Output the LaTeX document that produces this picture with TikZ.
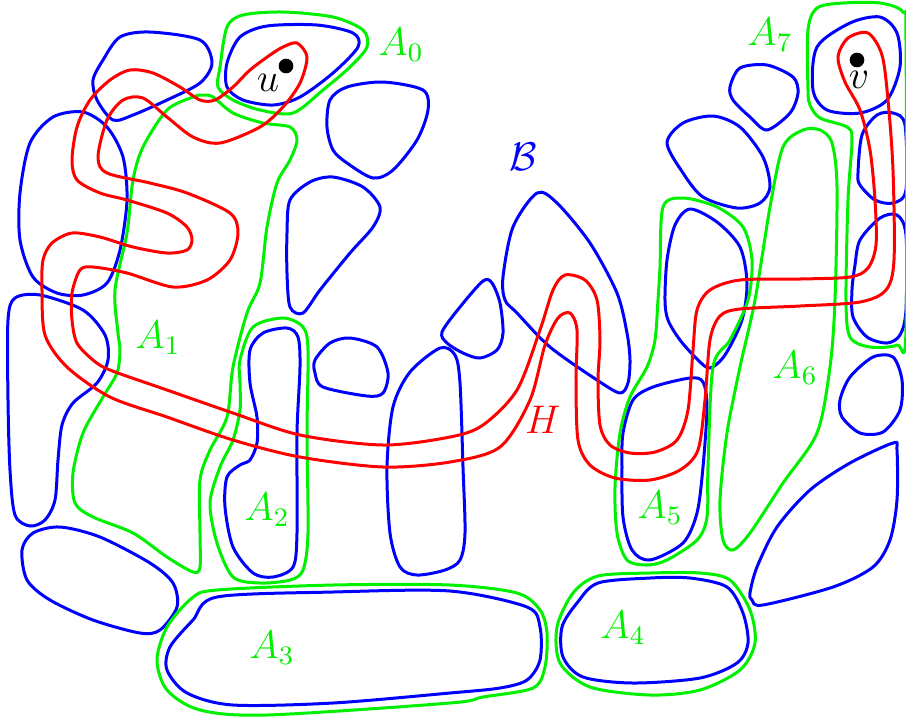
\documentclass[tikz,border=0pt]{standalone}
\usepackage{amsmath}
\usepackage{amssymb}
\usepackage{tikz}
\usetikzlibrary{positioning}

\definecolor{setblue}{RGB}{0,0,255}
\definecolor{setgreen}{RGB}{0,240,0}
\definecolor{pathred}{RGB}{255,0,0}

\begin{document}
\begin{tikzpicture}[x=0.3pt, y=-0.3pt, line join=round,
    blob/.style={draw=setblue, line width=0.9pt},
    part/.style={draw=setgreen, line width=0.9pt},
    walk/.style={draw=pathred, line width=0.9pt},
    every node/.style={font=\large}]
    \useasboundingbox (0,0) rectangle (906,720);

    % blue pieces of B
    \path[blob] plot[smooth cycle] coordinates {(103,60) (120,37) (150,32) (200,40) (212,63) (200,83) (167,100) (133,115) (113,120) (97,100) (93,80)};
    \path[blob] plot[smooth cycle] coordinates {(227,63) (240,37) (267,26) (317,25) (353,33) (358,47) (333,73) (300,97) (273,105) (243,100) (227,87)};
    \path[blob] plot[smooth cycle] coordinates {(330,100) (347,87) (383,82) (423,90) (428,110) (417,140) (393,170) (373,178) (347,163) (333,150) (327,127)};
    \path[blob] plot[smooth cycle] coordinates {(290,200) (310,182) (333,177) (363,187) (380,207) (373,227) (350,253) (320,290) (303,313) (290,307) (287,273) (287,233)};
    \path[blob] plot[smooth cycle] coordinates {(20,193) (30,143) (53,117) (83,112) (107,127) (123,157) (127,200) (120,250) (107,283) (83,295) (57,293) (33,277) (20,240)};
    \path[blob] plot[smooth cycle] coordinates {(8,320) (15,298) (40,295) (83,310) (105,335) (108,360) (97,383) (73,403) (62,425) (58,460) (55,500) (45,520) (30,526) (15,515) (10,470) (8,400)};
    \path[blob] plot[smooth cycle] coordinates {(22,550) (33,533) (60,527) (100,537) (150,563) (173,583) (177,607) (160,630) (140,633) (93,620) (50,600) (27,580)};
    \path[blob] plot[smooth cycle] coordinates {(250,350) (263,333) (287,328) (298,337) (300,367) (297,433) (297,533) (293,567) (273,577) (253,573) (233,547) (225,507) (227,477) (240,465) (250,460) (257,443) (257,417) (250,383)};
    \path[blob] plot[smooth cycle] coordinates {(315,360) (330,343) (350,338) (377,347) (388,373) (383,393) (367,396) (323,387) (315,373)};
    \path[blob] plot[smooth cycle] coordinates {(393,407) (410,372) (440,348) (455,355) (460,383) (463,467) (465,533) (460,560) (445,570) (417,575) (400,567) (390,533) (387,467)};
    \path[blob] plot[smooth cycle] coordinates {(442,332) (460,307) (483,281) (492,283) (500,303) (503,333) (497,350) (480,358) (463,353) (447,343)};
    \path[blob] plot[smooth cycle] coordinates {(503,277) (513,227) (537,193) (557,203) (590,243) (617,293) (627,333) (630,360) (628,383) (620,393) (597,380) (550,347) (517,313) (505,300)};
    \path[blob] plot[smooth cycle] coordinates {(217,597) (333,592) (450,591) (527,607) (540,627) (540,660) (527,680) (500,688) (450,693) (333,703) (233,705) (187,693) (167,670) (170,647) (193,620)};
    \path[blob] plot[smooth cycle] coordinates {(598,583) (650,578) (690,578) (727,587) (743,613) (748,643) (737,663) (700,678) (633,683) (583,677) (563,657) (562,627) (577,603)};
    \path[blob] plot[smooth cycle] coordinates {(623,433) (633,400) (653,387) (690,378) (703,382) (707,407) (703,467) (697,513) (683,543) (650,560) (632,550) (623,517) (622,467)};
    \path[blob] plot[smooth cycle] coordinates {(665,300) (667,260) (675,225) (690,209) (717,222) (740,247) (747,283) (742,320) (725,355) (710,368) (698,360) (680,340) (668,320)};
    \path[blob] plot[smooth cycle] coordinates {(667,143) (683,123) (713,116) (740,127) (763,157) (770,187) (760,203) (737,208) (703,197) (683,173)};
    \path[blob] plot[smooth cycle] coordinates {(730,87) (740,68) (767,65) (793,77) (798,93) (790,113) (767,130) (750,117) (733,100)};
    \path[blob] plot[smooth cycle] coordinates {(813,90) (817,47) (850,23) (880,17) (897,33) (900,67) (887,100) (860,113) (827,110)};
    \path[blob] plot[smooth cycle] coordinates {(858,173) (862,135) (877,115) (893,113) (905,125) (906,190) (893,203) (875,200) (860,185)};
    \path[blob] plot[smooth cycle] coordinates {(855,265) (860,240) (880,218) (897,215) (906,235) (906,310) (900,335) (887,343) (867,337) (853,317) (852,290)};
    \path[blob] plot[smooth cycle] coordinates {(840,400) (850,377) (873,357) (893,357) (902,380) (900,410) (883,432) (860,433) (842,417)};
    \path[blob] plot[smooth cycle] coordinates {(750,593) (757,567) (777,527) (810,490) (850,463) (893,443) (897,450) (897,500) (890,540) (873,567) (833,587) (763,605) (752,600)};

    % green parts A_0 ... A_7
    \path[part] plot[smooth cycle] coordinates {(220,67) (227,27) (243,15) (283,12) (333,17) (363,30) (367,47) (350,67) (323,90) (293,113) (260,110) (233,100) (218,87)};
    \path[part] plot[smooth cycle] coordinates {(203,95) (193,97) (167,110) (143,147) (133,180) (127,233) (115,290) (118,333) (120,350) (117,373) (103,397) (83,433) (73,473) (75,503) (93,517) (133,533) (167,557) (193,572) (200,567) (200,533) (200,480) (210,450) (227,417) (233,367) (247,313) (260,283) (267,227) (277,183) (290,160) (297,140) (290,127) (263,123) (233,113) (213,97)};
    \path[part] plot[smooth cycle] coordinates {(240,360) (253,327) (283,318) (303,327) (308,350) (307,433) (308,533) (303,570) (290,580) (260,583) (233,577) (217,543) (210,503) (220,467) (233,440) (240,410) (240,383)};
    \path[part] plot[smooth cycle] coordinates {(217,590) (333,585) (450,585) (517,593) (540,610) (547,633) (545,667) (533,688) (483,697) (450,703) (267,715) (200,710) (167,690) (157,660) (167,627) (192,598)};
    \path[part] plot[smooth cycle] coordinates {(598,576) (650,573) (700,573) (730,580) (750,610) (755,643) (740,670) (700,690) (650,695) (590,687) (560,663) (557,627) (573,593)};
    \path[part] plot[smooth cycle] coordinates {(663,207) (683,198) (717,207) (743,227) (752,260) (748,300) (730,340) (713,367) (708,467) (707,517) (697,540) (667,560) (647,565) (627,560) (617,533) (615,487) (620,433) (630,397) (647,367) (655,340) (658,300) (660,267)};
    \path[part] plot[smooth cycle] coordinates {(783,147) (803,130) (820,130) (832,143) (837,187) (835,300) (830,367) (817,433) (783,483) (750,533) (733,550) (723,540) (720,500) (727,433) (740,367) (755,300) (770,207)};
    \path[part] plot[smooth cycle] coordinates {(808,90) (808,30) (817,8) (843,3) (880,3) (903,12) (906,40) (906,330) (897,345) (870,347) (850,337) (846,300) (848,200) (852,140) (847,127) (820,118) (810,105)};

    % red cycle H through u and v
    \path[walk] plot[smooth cycle] coordinates {(307,57) (300,83) (283,107) (260,127) (220,143) (193,137) (167,117) (143,98) (123,100) (107,120) (98,157) (107,173) (150,183) (187,193) (230,213) (238,233) (230,260) (207,280) (173,287) (127,273) (93,267) (80,270) (72,293) (72,320) (77,343) (93,360) (110,370) (167,390) (233,413) (300,435) (383,445) (450,437) (483,425) (517,390) (540,330) (553,290) (565,275) (585,280) (597,300) (600,340) (598,380) (600,425) (610,445) (630,453) (655,452) (677,440) (688,410) (693,350) (697,310) (710,290) (740,280) (800,279) (850,277) (868,268) (876,245) (875,200) (870,150) (860,110) (845,82) (838,57) (848,38) (868,33) (882,55) (888,100) (893,170) (894,260) (886,290) (860,302) (800,306) (740,309) (720,316) (710,340) (705,400) (698,450) (680,470) (650,480) (615,478) (590,465) (578,440) (576,380) (577,330) (570,313) (558,318) (545,345) (530,400) (500,447) (450,462) (383,467) (300,457) (233,440) (167,417) (110,397) (67,367) (45,335) (42,290) (43,260) (52,243) (72,233) (100,237) (133,247) (167,253) (187,250) (192,240) (187,227) (167,213) (127,200) (100,193) (77,180) (72,160) (77,127) (90,100) (110,80) (130,70) (153,73) (180,87) (200,100) (215,100) (233,87) (250,70) (270,55) (283,47) (297,43)};

    % end vertices
    \fill (286,66) circle [radius=2.2pt];
    \fill (857,60) circle [radius=2.2pt];
    \node (u) at (268,83) {$u$};
    \node (v) at (859,80) {$v$};

    % labels
    \node[setblue] (B) at (523,157) {$\mathcal{B}$};
    \node[pathred] (H) at (543,420) {$H$};
    \node[setgreen] (a0) at (401,45) {$A_0$};
    \node[setgreen] (a1) at (158,338) {$A_1$};
    \node[setgreen] (a2) at (267,510) {$A_2$};
    \node[setgreen] (a3) at (272,648) {$A_3$};
    \node[setgreen] (a4) at (623,628) {$A_4$};
    \node[setgreen] (a5) at (660,508) {$A_5$};
    \node[setgreen] (a6) at (795,368) {$A_6$};
    \node[setgreen] (a7) at (770,35) {$A_7$};
\end{tikzpicture}
\end{document}
